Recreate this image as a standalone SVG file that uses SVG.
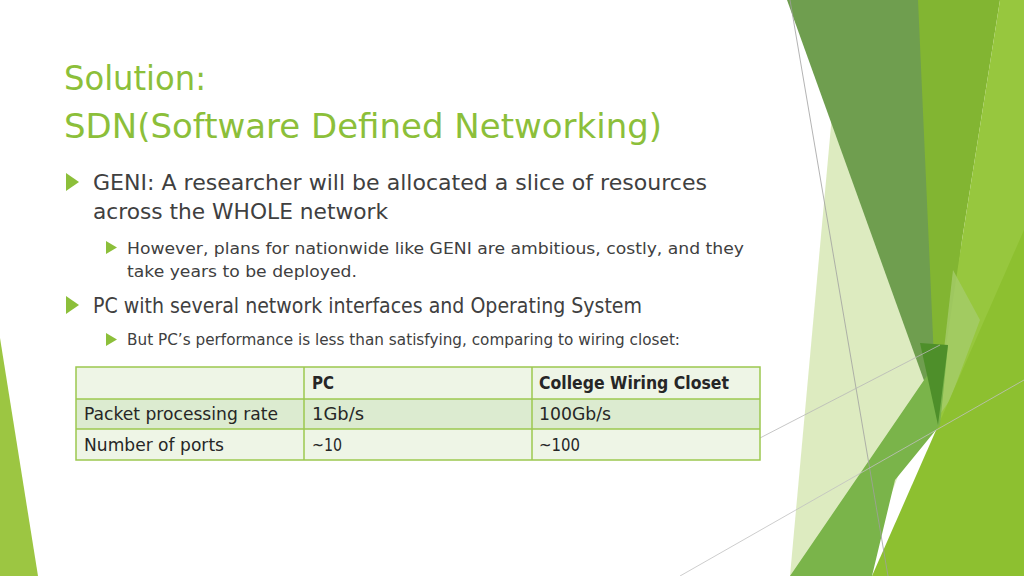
<svg xmlns="http://www.w3.org/2000/svg" width="1024" height="576" viewBox="0 0 1024 576">
<style>
.t{font-family:"DejaVu Sans","Open Sans",sans-serif;fill:#404040}
.h{font-family:"DejaVu Sans","Open Sans",sans-serif;fill:#8cbf3a;font-size:34px}
.c{font-family:"DejaVu Sans","Open Sans",sans-serif;fill:#262626;font-size:17px}
.b{fill:#8cbf3a}
</style>
<rect width="1024" height="576" fill="#fff"/>
<g id="decor">
<polygon points="0,338 38,576 0,576" fill="#9cc642"/>
<polygon points="832,115 948,345 860,576 790,576" fill="#d4e6b0" opacity="0.8"/>
<polygon points="787,0 922,0 945,270 940,425" fill="#6f9e4f"/>
<polygon points="918,0 1000,0 962,240 940,425 935,382" fill="#82b532"/>
<polygon points="1000,0 1024,0 1024,576 960,576 935,420 962,240" fill="#97c73e"/>
<polygon points="953,270 980,320 950,400 936,420" fill="#a5cc6a" opacity="0.8"/>
<polygon points="1024,230 1024,576 872,576" fill="#8dc030"/>
<polygon points="948,345 940,425 895,480 872,576 790,576" fill="#7ab44a"/>
<polygon points="920,343 948,345 938,425" fill="#4e8f2a"/>
<line x1="790" y1="0" x2="888" y2="576" stroke="#a0a0a0" stroke-width="0.8"/>
<line x1="760" y1="438" x2="940" y2="345" stroke="#b8b8b8" stroke-width="0.8"/>
<line x1="680" y1="576" x2="1024" y2="380" stroke="#c0c0c0" stroke-width="0.8"/>
</g>
<g id="title">
<text class="h" x="64" y="90" textLength="142" lengthAdjust="spacingAndGlyphs">Solution:</text>
<text class="h" x="64" y="138" textLength="598" lengthAdjust="spacingAndGlyphs">SDN(Software Defined Networking)</text>
</g>
<g id="bullets">
<polygon class="b" points="66,173 66,191 79,182"/>
<text class="t" x="93" y="190" font-size="21" textLength="614" lengthAdjust="spacingAndGlyphs">GENI: A researcher will be allocated a slice of resources</text>
<text class="t" x="93" y="219" font-size="21" textLength="295" lengthAdjust="spacingAndGlyphs">across the WHOLE network</text>
<polygon class="b" points="106,241 106,254 117,247.5"/>
<text class="t" x="127" y="254" font-size="16.5" textLength="617" lengthAdjust="spacingAndGlyphs">However, plans for nationwide like GENI are ambitious, costly, and they</text>
<text class="t" x="127" y="277" font-size="16.5" textLength="230" lengthAdjust="spacingAndGlyphs">take years to be deployed.</text>
<polygon class="b" points="66,296 66,314 79,305"/>
<text class="t" x="93" y="313" font-size="21" textLength="549" lengthAdjust="spacingAndGlyphs">PC with several network interfaces and Operating System</text>
<polygon class="b" points="106,333 106,346 117,339.5"/>
<text class="t" x="127" y="345" font-size="16.5" textLength="553" lengthAdjust="spacingAndGlyphs">But PC’s performance is less than satisfying, comparing to wiring closet:</text>
</g>
<g id="table">
<rect x="76" y="367" width="684" height="32" fill="#eef5e6"/>
<rect x="76" y="399" width="684" height="30" fill="#dcebd0"/>
<rect x="76" y="429" width="684" height="31" fill="#eef5e6"/>
<g stroke="#9cc84f" stroke-width="1.5" fill="none">
<rect x="76" y="367" width="684" height="93"/>
<line x1="76" y1="399" x2="760" y2="399"/>
<line x1="76" y1="429" x2="760" y2="429"/>
<line x1="304" y1="367" x2="304" y2="460"/>
<line x1="532" y1="367" x2="532" y2="460"/>
</g>
<text class="c" x="312" y="389" font-weight="bold" textLength="22" lengthAdjust="spacingAndGlyphs">PC</text>
<text class="c" x="539" y="389" font-weight="bold" textLength="190" lengthAdjust="spacingAndGlyphs">College Wiring Closet</text>
<text class="c" x="84" y="420" textLength="194" lengthAdjust="spacingAndGlyphs">Packet processing rate</text>
<text class="c" x="312" y="420" textLength="52" lengthAdjust="spacingAndGlyphs">1Gb/s</text>
<text class="c" x="539" y="420" textLength="72" lengthAdjust="spacingAndGlyphs">100Gb/s</text>
<text class="c" x="84" y="451" textLength="140" lengthAdjust="spacingAndGlyphs">Number of ports</text>
<text class="c" x="312" y="451" textLength="30" lengthAdjust="spacingAndGlyphs">~10</text>
<text class="c" x="539" y="451" textLength="41" lengthAdjust="spacingAndGlyphs">~100</text>
</g>
</svg>
